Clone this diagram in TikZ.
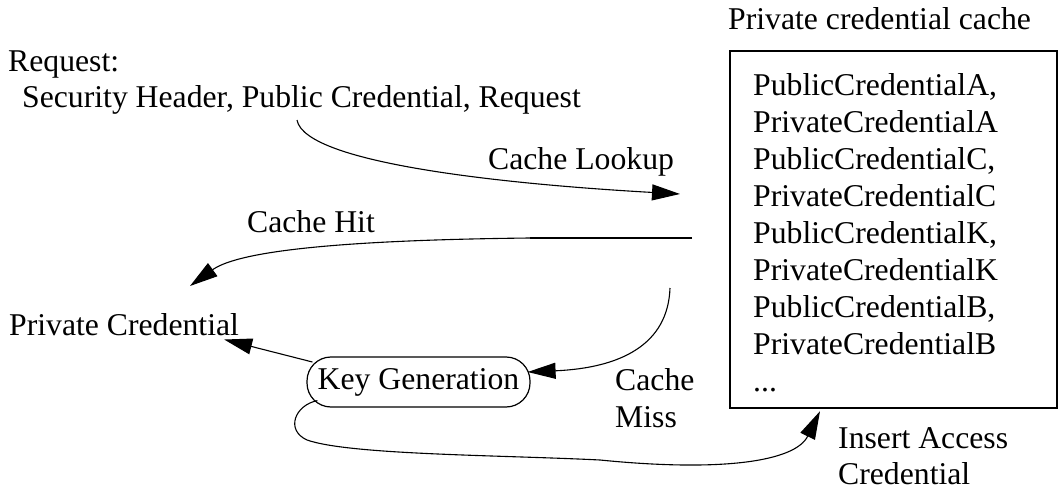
\documentclass[tikz,border=0pt]{standalone}
\usepackage{fontspec}
\setmainfont{Liberation Serif}
\usetikzlibrary{arrows.meta,calc}
\begin{document}
\begin{tikzpicture}[x=1pt,y=-1pt,
  every node/.style={font=\fontsize{31.7}{37}\selectfont, inner sep=0pt},
  lbl/.style={anchor=base west},
  blk/.style={anchor=north west, align=left},
  conn/.style={line width=1.1pt, -{Triangle[length=28pt,width=16pt]}},
  store/.style={draw, line width=2.2pt, anchor=north west, minimum width=327pt, minimum height=357pt},
  proc/.style={draw, line width=1.2pt, rounded corners=24pt, minimum width=223pt, minimum height=50pt}]
\useasboundingbox (0,0) rectangle (1058,492);

% the cache store and its entries
\node[lbl] (cachettl) at (728,30) {Private credential cache};
\node[store] (cache) at (729,50) {};
\node[blk] (entries) at (753,73) {PublicCredentialA,\\PrivateCredentialA\\PublicCredentialC,\\PrivateCredentialC\\PublicCredentialK,\\PrivateCredentialK\\PublicCredentialB,\\PrivateCredentialB\\...};

% request, results and the key generation step
\node[blk, font=\fontsize{31.7}{36}\selectfont] (req) at (8,51) {Request:\\\hspace*{14pt}Security Header, Public Credential, Request};
\node[lbl] (lookup) at (488,170) {Cache Lookup};
\node[lbl] (hit) at (247,232) {Cache Hit};
\node[lbl] (priv) at (9,335) {Private Credential};
\node[proc] (kg) at (418.5,382) {Key Generation};
\node[blk] (miss) at (615,368) {Cache\\Miss};
\node[blk, font=\fontsize{31.7}{36}\selectfont] (ins) at (838,427) {Insert Access\\Credential};

% free ends of the connectors
\coordinate (lkA) at (297,120);
\coordinate (lkB) at (680,194);
\coordinate (hitA) at (692,238);
\coordinate (hitB) at (530,238);
\coordinate (hitC) at (190,286);
\coordinate (missA) at (670,288);

% connectors
\draw[conn] (lkA) .. controls (305,165) and (520,185) .. (lkB);
\draw[line width=2.2pt] (hitA) -- (hitB);
\draw[conn] (hitB) .. controls (350,240) and (240,250) .. (hitC);
\draw[conn] (missA) .. controls (668,345) and (620,368) .. ($(kg.east)+(-3,-10)$);
\draw[conn] ($(kg.west)+(6,-20)$) -- ($(priv.south east)+(-15,4)$);
\draw[conn] ($(kg.south west)+(11,-7)$) .. controls (295,405) and (285,430) .. (307,440)
  .. controls (350,455) and (500,455) .. (600,460)
  .. controls (720,472) and (795,462) .. ($(cache.south west)+(91,2)$);
\end{tikzpicture}
\end{document}
